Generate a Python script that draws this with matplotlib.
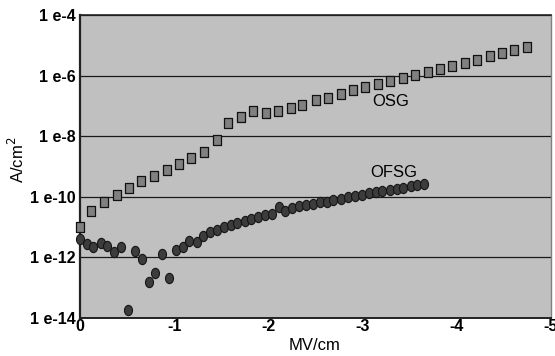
import numpy as np
import matplotlib
matplotlib.use("Agg")
import matplotlib.pyplot as plt
from matplotlib.path import Path

# ---------------- data ----------------
osg_field = [0.00, -0.12, -0.26, -0.39, -0.52, -0.65, -0.79, -0.92, -1.05, -1.18,
             -1.32, -1.45, -1.57, -1.71, -1.84, -1.97, -2.10, -2.24, -2.36, -2.51,
             -2.63, -2.77, -2.90, -3.03, -3.16, -3.29, -3.43, -3.56, -3.69, -3.82,
             -3.95, -4.09, -4.21, -4.35, -4.48, -4.61, -4.74]
osg_log10_j = [-10.99, -10.46, -10.18, -9.95, -9.72, -9.47, -9.32, -9.11, -8.91, -8.71,
               -8.51, -8.14, -7.57, -7.37, -7.18, -7.24, -7.18, -7.07, -6.96, -6.81,
               -6.73, -6.61, -6.48, -6.39, -6.28, -6.18, -6.08, -5.99, -5.89, -5.79,
               -5.69, -5.58, -5.48, -5.36, -5.24, -5.15, -5.06]

ofsg_field = [0.00, -0.07, -0.14, -0.22, -0.29, -0.36, -0.44, -0.51, -0.58, -0.66,
              -0.73, -0.80, -0.87, -0.94, -1.02, -1.09, -1.16, -1.24, -1.31, -1.38,
              -1.45, -1.53, -1.60, -1.67, -1.75, -1.82, -1.89, -1.96, -2.04, -2.11,
              -2.18, -2.25, -2.33, -2.40, -2.47, -2.55, -2.62, -2.69, -2.77, -2.84,
              -2.92, -2.99, -3.07, -3.14, -3.21, -3.29, -3.36, -3.43, -3.51, -3.58,
              -3.65]
ofsg_log10_j = [-11.39, -11.56, -11.66, -11.52, -11.63, -11.83, -11.66, -13.74, -11.79, -12.06,
                -12.80, -12.53, -11.89, -12.67, -11.77, -11.65, -11.46, -11.50, -11.31, -11.15,
                -11.08, -11.01, -10.92, -10.86, -10.80, -10.73, -10.68, -10.60, -10.56, -10.35,
                -10.46, -10.37, -10.32, -10.27, -10.24, -10.18, -10.16, -10.10, -10.07, -10.02,
                -9.96, -9.93, -9.87, -9.85, -9.82, -9.77, -9.74, -9.71, -9.66, -9.62,
                -9.57]

x_ticks = [0, -1, -2, -3, -4, -5]
x_tick_labels = ["0", "-1", "-2", "-3", "-4", "-5"]
y_ticks = [1e-14, 1e-12, 1e-10, 1e-8, 1e-6, 1e-4]
y_tick_labels = ["1 e-14", "1 e-12", "1 e-10", "1 e-8", "1 e-6", "1 e-4"]
series_names = ["OSG", "OFSG"]

osg_j = [10 ** v for v in osg_log10_j]
ofsg_j = [10 ** v for v in ofsg_log10_j]

# ---------------- figure ----------------
plt.rcParams['font.family'] = ['Liberation Sans', 'DejaVu Sans']
fig = plt.figure(figsize=(5.55, 3.56), dpi=100)
ax = fig.add_axes([80 / 555, 1 - 318 / 356, 471 / 555, 303 / 356])
ax.set_facecolor('#c0c0c0')

rect_marker = Path([(-0.78, -1), (0.78, -1), (0.78, 1), (-0.78, 1), (-0.78, -1)],
                   [Path.MOVETO, Path.LINETO, Path.LINETO, Path.LINETO, Path.CLOSEPOLY])
circ = Path.unit_circle()
ell_marker = Path(circ.vertices * np.array([0.78, 1.0]), circ.codes)

ax.plot(osg_field, osg_j, linestyle='none', marker=rect_marker, markersize=7.6,
        markerfacecolor='#808080', markeredgecolor='#111111', markeredgewidth=0.9,
        clip_on=False, zorder=3)
ax.plot(ofsg_field, ofsg_j, linestyle='none', marker=ell_marker, markersize=7.4,
        markerfacecolor='#3c3c3c', markeredgecolor='#151515', markeredgewidth=0.8,
        clip_on=False, zorder=4)

ax.set_yscale('log')
ax.set_xlim(0, -5)
ax.set_ylim(1e-14, 1e-4)
ax.set_xticks(x_ticks)
ax.set_xticklabels(x_tick_labels, fontsize=11.5, fontweight='bold')
ax.set_yticks(y_ticks)
ax.set_yticklabels(y_tick_labels, fontsize=11.5, fontweight='bold')
ax.yaxis.set_minor_locator(matplotlib.ticker.NullLocator())
ax.tick_params(axis='y', length=0, pad=3)
ax.tick_params(axis='x', length=0, pad=1)

ax.grid(axis='y', color='#1a1a1a', linewidth=0.9)
ax.set_axisbelow(True)

for side in ['left', 'bottom', 'top']:
    ax.spines[side].set_color('#222222')
ax.spines['left'].set_linewidth(1.6)
ax.spines['bottom'].set_linewidth(1.4)
ax.spines['top'].set_linewidth(1.2)
ax.spines['right'].set_color('#808080')
ax.spines['right'].set_linewidth(1.0)

ax.text(-3.30, 10 ** -6.85, series_names[0], fontsize=12, ha='center', va='center')
ax.text(-3.33, 10 ** -9.2, series_names[1], fontsize=12, ha='center', va='center')

fig.text(315 / 555, 1 - 346 / 356, "MV/cm", fontsize=12, ha='center', va='center')
fig.text(17 / 555, 1 - 160 / 356, "A/cm$^2$", fontsize=12, ha='center', va='center',
         rotation=90)

fig.savefig("out.png", dpi=100)
